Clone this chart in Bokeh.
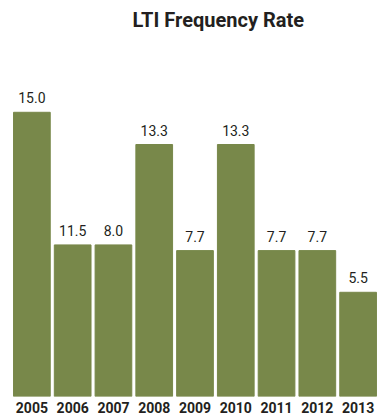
from bokeh.plotting import figure
from bokeh.models import ColumnDataSource, Title, FactorRange, Range1d
from bokeh.core.properties import value
from bokeh.embed import file_html
from bokeh.resources import INLINE

years = ["2005", "2006", "2007", "2008", "2009", "2010", "2011", "2012", "2013"]
# bar heights as drawn in the reference (2006 bar is drawn at the same height as 2007)
heights = [15.0, 8.0, 8.0, 13.3, 7.7, 13.3, 7.7, 7.7, 5.5]
labels = ["15.0", "11.5", "8.0", "13.3", "7.7", "13.3", "7.7", "7.7", "5.5"]

FONT = "Roboto"
GREEN = "#78884a"

src = ColumnDataSource(dict(x=years, top=heights, label=labels))

p = figure(width=378, height=415, x_range=FactorRange(*years, range_padding=0.0),
           y_range=Range1d(0, 19.0), output_backend="svg", toolbar_location=None,
           y_axis_location=None, min_border_left=11, min_border_right=0,
           min_border_top=0, min_border_bottom=0)
p.title = Title(text="LTI Frequency Rate", align="left", offset=121,
                text_font=FONT, text_font_size="20px", text_font_style="bold",
                text_color="#231f20", standoff=10)

p.vbar(x="x", top="top", width=0.9, source=src, color=GREEN)
p.text(x="x", y="top", text="label", source=src, text_align="center",
       text_baseline="bottom", y_offset=-9, text_font=value(FONT),
       text_font_size="14px", text_color="#231f20")

ax = p.xaxis[0]
ax.axis_line_color = None
ax.major_tick_line_color = None
ax.minor_tick_line_color = None
ax.major_label_standoff = -1
ax.major_label_text_font = FONT
ax.major_label_text_font_size = "14px"
ax.major_label_text_font_style = "bold"
ax.major_label_text_color = "#231f20"

p.xgrid.visible = False
p.ygrid.visible = False
p.outline_line_color = None

open("out.html", "w").write(file_html(p, INLINE))
